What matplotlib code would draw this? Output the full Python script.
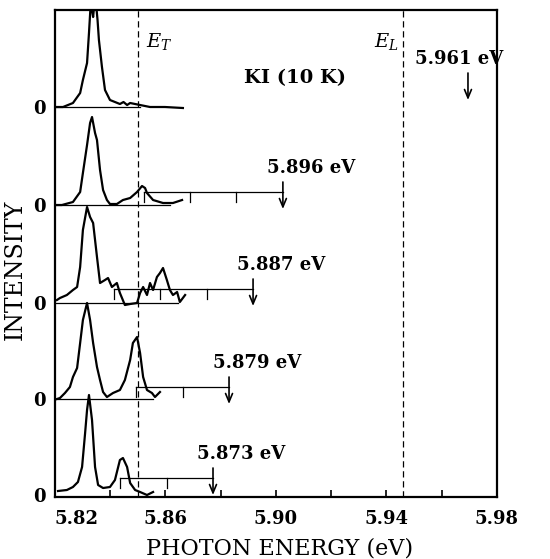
import numpy as np
from matplotlib import pyplot as plt

plt.rcParams['font.family'] = 'DejaVu Serif'
plt.rcParams['mathtext.fontset'] = 'dejavuserif'

# Reference energies (eV).
E_T = 5.850
E_L = 5.946

# Vertical offset of every spectrum (intensity units, top to bottom).
offsets = [390, 292, 194, 98, 2]

# Spectra, top to bottom.
energy_1 = [5.8207, 5.8229, 5.8265, 5.8291, 5.8301, 5.8316, 5.8323, 5.8329, 5.8334, 5.8338,
            5.8341, 5.8348, 5.8354, 5.8359, 5.8370, 5.8381, 5.8399, 5.8435, 5.8448, 5.8461,
            5.8472, 5.8508, 5.8544, 5.8598, 5.8663]
intensity_1 = [0, 0, 4, 14, 27, 44, 74, 102, 97, 90,
               99, 105, 87, 67, 40, 17, 7, 3, 5, 2,
               4, 2, 0, 0, -1]

energy_2 = [5.8207, 5.8225, 5.8265, 5.8291, 5.8301, 5.8316, 5.8327, 5.8334, 5.8345, 5.8352,
            5.8363, 5.8374, 5.8388, 5.8399, 5.8424, 5.8446, 5.8472, 5.8497, 5.8515, 5.8526,
            5.8533, 5.8555, 5.8591, 5.8627, 5.8660]
intensity_2 = [0, 0, 3, 13, 32, 60, 82, 88, 72, 65,
               35, 15, 5, 1, 1, 5, 7, 13, 19, 17,
               12, 5, 2, 2, 5]

energy_3 = [5.8207, 5.8218, 5.8243, 5.8265, 5.8280, 5.8291, 5.8301, 5.8316, 5.8327, 5.8338,
            5.8352, 5.8363, 5.8381, 5.8392, 5.8406, 5.8424, 5.8435, 5.8453, 5.8472, 5.8497,
            5.8508, 5.8519, 5.8533, 5.8544, 5.8555, 5.8569, 5.8580, 5.8591, 5.8605, 5.8616,
            5.8627, 5.8642, 5.8652, 5.8671]
intensity_3 = [3, 5, 8, 13, 16, 36, 73, 96, 86, 80,
               46, 20, 23, 25, 16, 20, 10, -2, -1, 0,
               10, 16, 8, 20, 13, 26, 30, 35, 23, 13,
               8, 11, 1, 8]

energy_4 = [5.8207, 5.8218, 5.8236, 5.8254, 5.8265, 5.8280, 5.8291, 5.8301, 5.8316, 5.8327,
            5.8338, 5.8352, 5.8363, 5.8374, 5.8388, 5.8410, 5.8435, 5.8453, 5.8472, 5.8482,
            5.8497, 5.8508, 5.8519, 5.8533, 5.8551, 5.8562, 5.8580]
intensity_4 = [0, 1, 6, 12, 22, 31, 56, 79, 96, 79,
               56, 32, 19, 7, 2, 6, 9, 19, 39, 56,
               62, 46, 22, 9, 6, 2, 7]

energy_5 = [5.8211, 5.8243, 5.8265, 5.8283, 5.8298, 5.8309, 5.8316, 5.8323, 5.8334, 5.8345,
            5.8356, 5.8374, 5.8399, 5.8417, 5.8435, 5.8446, 5.8461, 5.8472, 5.8490, 5.8508,
            5.8533, 5.8555]
intensity_5 = [4, 5, 8, 13, 28, 62, 85, 100, 75, 28,
               10, 7, 8, 15, 35, 37, 28, 12, 5, 3,
               0, 3]

energies = [energy_1, energy_2, energy_3, energy_4, energy_5]
intensities = [intensity_1, intensity_2, intensity_3, intensity_4, intensity_5]

# End of the thin zero line drawn under each spectrum (None: the frame is the line).
baseline_ends = [5.8508, 5.8616, 5.8645, 5.8555, None]

# Excitation energies: label and arrow position.
excitation_labels = ['5.961 eV', '5.896 eV', '5.887 eV', '5.879 eV', '5.873 eV']
arrow_positions = [5.9695, 5.9025, 5.8917, 5.8830, 5.8772]

# Phonon ladder below each arrow.
phonon_step = 0.0168
n_phonon_ticks = [0, 3, 3, 2, 2]
ladder_heights = [24, 13, 14, 12, 17]

fig = plt.figure(figsize=(5.5, 5.59), dpi=100)
ax = fig.add_axes([0.1, 0.1109, 0.8036, 0.8712])

for energy, intensity, offset, base_end in zip(energies, intensities, offsets, baseline_ends):
    ax.plot(energy, np.array(intensity) + offset, color='black', linewidth=1.6)
    if base_end is not None:
        ax.plot([5.82, base_end], [offset, offset], color='black', linewidth=0.9)

for label, x_arrow, n_ticks, h, offset in zip(excitation_labels, arrow_positions,
                                               n_phonon_ticks, ladder_heights, offsets):
    y_line = offset + h
    if n_ticks > 0:
        x_start = x_arrow - n_ticks * phonon_step
        ax.plot([x_start, x_arrow], [y_line, y_line], color='black', linewidth=0.9)
        for k in range(1, n_ticks + 1):
            xt = x_arrow - k * phonon_step
            ax.plot([xt, xt], [y_line, y_line - 10], color='black', linewidth=0.9)
        x_text = x_arrow - 0.0058
    else:
        x_text = x_arrow - 0.0192
    ax.annotate('', xy=(x_arrow, y_line - 17), xytext=(x_arrow, y_line + 10),
                arrowprops=dict(arrowstyle='->,head_length=0.6,head_width=0.25',
                                color='black', linewidth=1.2, shrinkA=0, shrinkB=0))
    ax.text(x_text, y_line + 24, label, ha='left', va='center', fontsize=13, fontweight='bold')

ax.axvline(E_T, color='black', linewidth=0.9, linestyle=(0, (5, 3)))
ax.axvline(E_L, color='black', linewidth=0.9, linestyle=(0, (5, 3)))
ax.text(E_T + 0.0028, 456, '$E_T$', fontsize=14, ha='left', va='center')
ax.text(E_L - 0.0015, 456, '$E_L$', fontsize=14, ha='right', va='center')
ax.text(5.8885, 419, 'KI (10 K)', fontsize=14, fontweight='bold', ha='left', va='center')

ax.set_xlim(5.82, 5.98)
ax.set_ylim(0, 487)

ax.set_xticks(np.arange(5.82, 5.981, 0.04))
ax.set_xticklabels(['5.82', '5.86', '5.90', '5.94', '5.98'], fontweight='bold', fontsize=13)
ax.set_xticks(np.arange(5.84, 5.97, 0.04), minor=True)
ax.tick_params(axis='x', which='both', direction='in', length=5, width=1.2, pad=9, top=False)
ax.get_xticklabels()[0].set_ha('left')

ax.set_yticks(offsets)
ax.set_yticklabels(['0'] * len(offsets), fontweight='bold', fontsize=13)
ax.tick_params(axis='y', length=0, pad=7)

for spine in ax.spines.values():
    spine.set_linewidth(1.6)

ax.set_xlabel('PHOTON ENERGY (eV)', fontsize=16)
ax.xaxis.set_label_coords(0.509, -0.083)
ax.set_ylabel('INTENSITY', fontsize=17)
ax.yaxis.set_label_coords(-0.063, 0.466)

plt.savefig('out.png', dpi=100)
